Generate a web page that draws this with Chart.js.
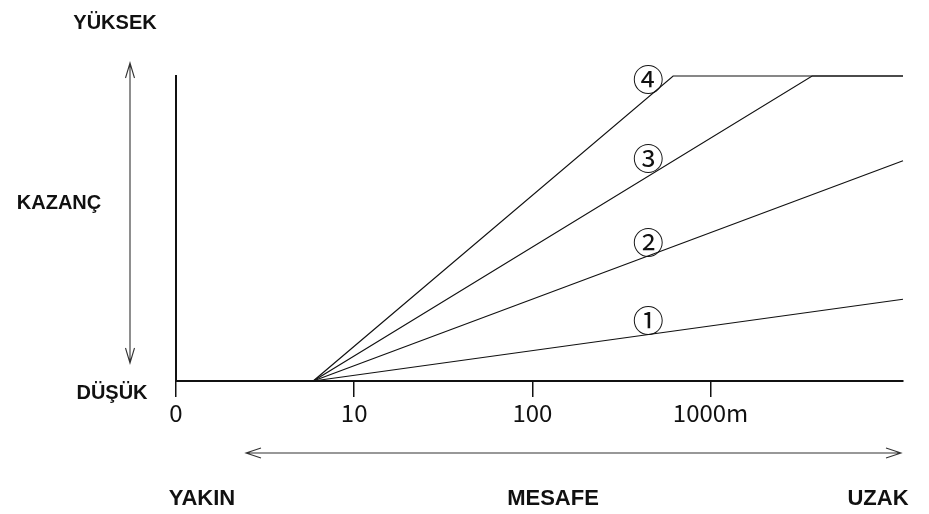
<!DOCTYPE html>
<html>
<head>
<meta charset="utf-8">
<script src="https://cdn.jsdelivr.net/npm/chart.js@4.4.1/dist/chart.umd.min.js"></script>
<style>
  html, body { margin: 0; padding: 0; background: #ffffff; }
  #wrap { width: 929px; height: 514px; position: relative; }
</style>
</head>
<body>
<div id="wrap"><canvas id="c" width="929" height="514"></canvas></div>
<script>
// Distance axis: positions are decades (0 -> "0", 1 -> "10", 2 -> "100", 3 -> "1000m")
const distanceTickValues = [0, 1, 2, 3];
const distanceTickLabels = ['0', '10', '100', '1000m'];
const distanceMin = 0;
const distanceMax = 4.08;

// Gain (0 = DÜŞÜK, 100 = YÜKSEK)
const gainMin = 0;
const gainMax = 100;

// Series (x = distance decade position, y = gain)
const curve1X = [0.77, 4.08];
const curve1Y = [0, 26.8];
const curve2X = [0.77, 4.08];
const curve2Y = [0, 72.2];
const curve3X = [0.77, 3.57, 4.08];
const curve3Y = [0, 100, 100];
const curve4X = [0.77, 2.79, 4.08];
const curve4Y = [0, 100, 100];

const curveNames = ['①', '②', '③', '④'];
const curveLabelX = [2.65, 2.65, 2.65, 2.65];
const curveLabelY = [20.0, 45.6, 73.1, 99.0];

function pts(xs, ys) { return xs.map((x, i) => ({ x: x, y: ys[i] })); }

const lineStyle = {
  borderColor: '#111111',
  borderWidth: 1.2,
  pointRadius: 0,
  fill: false,
  tension: 0,
  clip: false
};

const decorPlugin = {
  id: 'decor',
  afterDraw(chart) {
    const ctx = chart.ctx;
    const xs = chart.scales.x, ys = chart.scales.y;
    ctx.save();
    // circled curve labels
    ctx.fillStyle = '#111111';
    ctx.font = "31px 'Noto Sans CJK JP'";
    ctx.textAlign = 'center';
    ctx.textBaseline = 'middle';
    curveNames.forEach((n, i) => {
      ctx.fillText(n, xs.getPixelForValue(curveLabelX[i]), ys.getPixelForValue(curveLabelY[i]));
    });

    // bold captions
    ctx.font = "bold 20px 'Liberation Sans', Arial, sans-serif";
    ctx.textBaseline = 'alphabetic';
    ctx.fillText('YÜKSEK', 115, 29);
    ctx.fillText('KAZANÇ', 59, 209);
    ctx.fillText('DÜŞÜK', 112, 399);
    ctx.font = "bold 22px 'Liberation Sans', Arial, sans-serif";
    ctx.fillText('YAKIN', 202, 505);
    ctx.fillText('MESAFE', 553, 505);
    ctx.fillText('UZAK', 878, 505);

    // double arrows
    ctx.strokeStyle = '#333333';
    ctx.lineWidth = 1.1;
    ctx.beginPath();
    // vertical
    ctx.moveTo(130, 63); ctx.lineTo(130, 363);
    ctx.moveTo(125.5, 78); ctx.lineTo(130, 63); ctx.lineTo(134.5, 78);
    ctx.moveTo(125.5, 348); ctx.lineTo(130, 363); ctx.lineTo(134.5, 348);
    // horizontal
    ctx.moveTo(246, 453); ctx.lineTo(901, 453);
    ctx.moveTo(261, 448); ctx.lineTo(246, 453); ctx.lineTo(261, 458);
    ctx.moveTo(886, 448); ctx.lineTo(901, 453); ctx.lineTo(886, 458);
    ctx.stroke();
    ctx.restore();
  }
};

new Chart(document.getElementById('c'), {
  type: 'line',
  data: {
    datasets: [
      Object.assign({ label: '①', data: pts(curve1X, curve1Y) }, lineStyle),
      Object.assign({ label: '②', data: pts(curve2X, curve2Y) }, lineStyle),
      Object.assign({ label: '③', data: pts(curve3X, curve3Y) }, lineStyle),
      Object.assign({ label: '④', data: pts(curve4X, curve4Y) }, lineStyle)
    ]
  },
  options: {
    responsive: false,
    animation: false,
    devicePixelRatio: 1,
    layout: { padding: { left: 176, right: 26, top: 76, bottom: 88 } },
    plugins: { legend: { display: false }, tooltip: { enabled: false }, title: { display: false } },
    scales: {
      x: {
        type: 'linear',
        min: distanceMin,
        max: distanceMax,
        afterBuildTicks: (s) => { s.ticks = distanceTickValues.map(v => ({ value: v })); },
        afterFit: (s) => { s.height = 45; },
        ticks: {
          color: '#111111',
          padding: 1,
          font: { family: "'Noto Sans CJK JP'", size: 24 },
          maxRotation: 0,
          autoSkip: false,
          callback: (v) => { const i = distanceTickValues.indexOf(v); return i >= 0 ? distanceTickLabels[i] : ''; }
        },
        grid: { display: true, drawOnChartArea: false, drawTicks: true, tickLength: 16, color: '#111111', lineWidth: 1.5 },
        border: { display: true, color: '#111111', width: 2 }
      },
      y: {
        type: 'linear',
        min: gainMin,
        max: gainMax,
        afterFit: (s) => { s.width = 0; },
        ticks: { display: false },
        grid: { display: false },
        border: { display: true, color: '#111111', width: 2 }
      }
    }
  },
  plugins: [decorPlugin]
});
</script>
</body>
</html>
